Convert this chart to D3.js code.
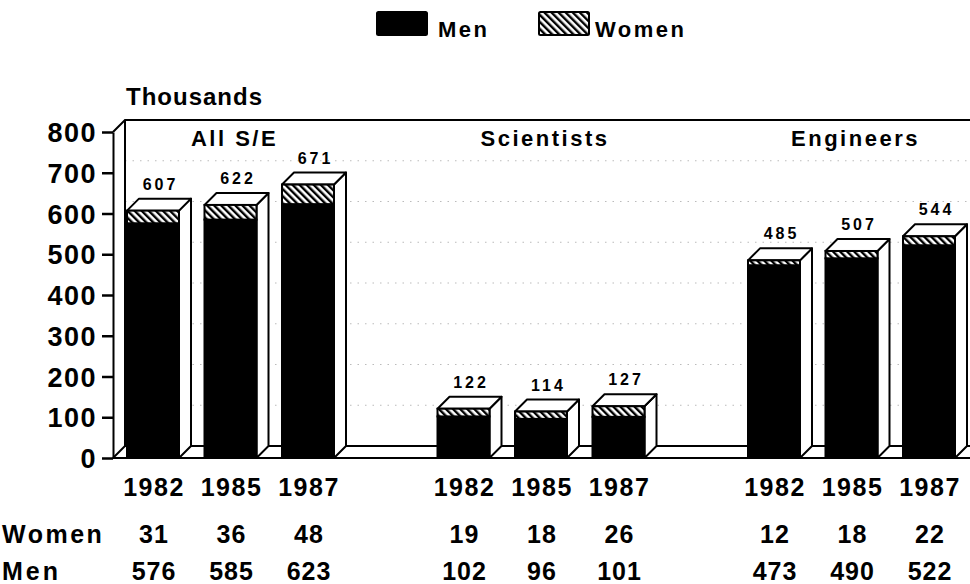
<!DOCTYPE html>
<html>
<head>
<meta charset="utf-8">
<script src="https://cdn.jsdelivr.net/npm/d3@7"></script>
<style>
  html, body { margin: 0; padding: 0; background: #fff; }
  svg { display: block; }
  text { font-family: "Liberation Sans", Arial, Helvetica, sans-serif; font-weight: bold; fill: #000; }
</style>
</head>
<body>
<svg id="chart" width="970" height="584"></svg>
<script>
// ---- data ----
const groups = ["All S/E", "Scientists", "Engineers"];
const years = ["1982", "1985", "1987"];
const women = [[31, 36, 48], [19, 18, 26], [12, 18, 22]];
const men = [[576, 585, 623], [102, 96, 101], [473, 490, 522]];
const totals = [[607, 622, 671], [122, 114, 127], [485, 507, 544]];
const yTicks = [0, 100, 200, 300, 400, 500, 600, 700, 800];
const seriesNames = ["Men", "Women"];

// ---- layout ----
const svg = d3.select("#chart");
const DX = 12, DY = 12;           // 3-D depth offset
const W = 970;
const y = d3.scaleLinear().domain([0, 800]).range([458, 132]);
const axisX = 113;
const xg = d3.scaleBand().domain(groups).range([127, 127 + 3 * 310.5]).padding(0);
const xy = d3.scaleBand().domain(years).range([0, 207]).paddingInner(0.329).paddingOuter(0);
const bw = xy.bandwidth();

// hatch pattern
const defs = svg.append("defs");
const pat = defs.append("pattern")
  .attr("id", "hatch").attr("patternUnits", "userSpaceOnUse")
  .attr("width", 5).attr("height", 5)
  .attr("patternTransform", "rotate(-45)");
pat.append("rect").attr("width", 5).attr("height", 5).attr("fill", "#fff");
pat.append("rect").attr("width", 2.4).attr("height", 5).attr("fill", "#000");

// ---- back wall grid lines (dotted) ----
const grid = svg.append("g");
grid.selectAll("line").data(yTicks.filter(d => d > 0 && d < 800)).join("line")
  .attr("x1", axisX + DX).attr("x2", W)
  .attr("y1", d => y(d) - DY).attr("y2", d => y(d) - DY)
  .attr("stroke", "#bbb").attr("stroke-width", 1).attr("stroke-dasharray", "1.5,6");

// ---- walls & floor ----
const frame = svg.append("g").attr("fill", "none").attr("stroke", "#000").attr("stroke-width", 2);
frame.append("path").attr("d",
  `M${axisX},${y(800)} L${axisX + DX},${y(800) - DY} L${W},${y(800) - DY}`);
frame.append("line").attr("x1", axisX + DX).attr("x2", axisX + DX)
  .attr("y1", y(800) - DY).attr("y2", y(0) - DY);
frame.append("line").attr("x1", axisX + DX).attr("x2", W).attr("y1", y(0) - DY).attr("y2", y(0) - DY);
frame.append("line").attr("x1", axisX).attr("x2", axisX + DX).attr("y1", y(0)).attr("y2", y(0) - DY);
frame.append("line").attr("x1", axisX).attr("x2", W).attr("y1", y(0)).attr("y2", y(0));

// ---- y axis ----
const yAxis = d3.axisLeft(y).tickValues(yTicks).tickSize(11).tickSizeOuter(0).tickPadding(5);
const ag = svg.append("g").attr("transform", `translate(${axisX},0)`).call(yAxis);
ag.select(".domain").attr("stroke", "#000").attr("stroke-width", 2);
ag.selectAll(".tick line").attr("stroke", "#000").attr("stroke-width", 2.5);
ag.selectAll(".tick text")
  .attr("font-size", 27).attr("font-family", null).attr("dy", null).attr("y", 9.5)
  .style("letter-spacing", "1.5px").attr("fill", "#000");

// ---- bars ----
const bars = [];
groups.forEach((g, gi) => years.forEach((yr, yi) => {
  bars.push({ g, gi, yr, yi, men: men[gi][yi], women: women[gi][yi], total: totals[gi][yi] });
}));

const bg = svg.append("g");
const bar = bg.selectAll("g.bar").data(bars).join("g").attr("class", "bar");
bar.each(function (d) {
  const s = d3.select(this);
  const x0 = xg(d.g) + xy(d.yr);
  const yTop = y(d.men + d.women), yMen = y(d.men), yBase = y(0);
  s.append("path")
    .attr("d", `M${x0 + bw},${yTop} L${x0 + bw + DX},${yTop - DY} L${x0 + bw + DX},${yBase - DY} L${x0 + bw},${yBase} Z`)
    .attr("fill", "#fff").attr("stroke", "#000").attr("stroke-width", 2).attr("stroke-linejoin", "round");
  s.append("path")
    .attr("d", `M${x0},${yTop} L${x0 + DX},${yTop - DY} L${x0 + bw + DX},${yTop - DY} L${x0 + bw},${yTop} Z`)
    .attr("fill", "#fff").attr("stroke", "#000").attr("stroke-width", 2).attr("stroke-linejoin", "round");
  s.append("rect").attr("x", x0).attr("y", yMen).attr("width", bw).attr("height", yBase - yMen)
    .attr("fill", "#000").attr("stroke", "#000").attr("stroke-width", 2);
  s.append("rect").attr("x", x0).attr("y", yTop).attr("width", bw).attr("height", yMen - yTop)
    .attr("fill", "url(#hatch)").attr("stroke", "#000").attr("stroke-width", 2);
  s.append("text").attr("x", x0 + bw / 2 + DX / 2 + 1.5).attr("y", yTop - DY - 9)
    .attr("text-anchor", "middle").attr("font-size", 16).style("letter-spacing", "3px")
    .text(d.total);
  s.append("text").attr("x", x0 + bw / 2 + 1).attr("y", 496)
    .attr("text-anchor", "middle").attr("font-size", 25).style("letter-spacing", "1.5px")
    .text(d.yr);
  s.append("text").attr("x", x0 + bw / 2 + 1).attr("y", 543)
    .attr("text-anchor", "middle").attr("font-size", 25).style("letter-spacing", "1px")
    .text(d.women);
  s.append("text").attr("x", x0 + bw / 2 + 1).attr("y", 580)
    .attr("text-anchor", "middle").attr("font-size", 25).style("letter-spacing", "1px")
    .text(d.men);
});

// ---- group titles ----
svg.append("g").selectAll("text").data(groups).join("text")
  .attr("x", d => xg(d) + (207 + DX) / 2 - 2)
  .attr("y", 146)
  .attr("text-anchor", "middle").attr("font-size", 22).style("letter-spacing", "2.5px")
  .text(d => d);

// ---- unit label ----
svg.append("text").attr("x", 126).attr("y", 105).attr("font-size", 24)
  .style("letter-spacing", "1px").text("Thousands");

// ---- row labels ----
svg.append("text").attr("x", 2).attr("y", 543).attr("font-size", 25).style("letter-spacing", "2.5px").text("Women");
svg.append("text").attr("x", 2).attr("y", 580).attr("font-size", 25).style("letter-spacing", "3px").text("Men");

// ---- legend ----
const lg = svg.append("g");
const legendX = [377, 539];
lg.selectAll("rect").data(seriesNames).join("rect")
  .attr("x", (d, i) => legendX[i]).attr("y", 12).attr("width", 50).attr("height", 23)
  .attr("rx", 1.5)
  .attr("fill", (d, i) => i === 0 ? "#000" : "url(#hatch)")
  .attr("stroke", "#000").attr("stroke-width", 2);
lg.selectAll("text").data(seriesNames).join("text")
  .attr("x", (d, i) => legendX[i] + 61 - (i === 0 ? 0 : 5)).attr("y", 37)
  .attr("font-size", 22).style("letter-spacing", "2.5px")
  .text(d => d);
</script>
</body>
</html>
